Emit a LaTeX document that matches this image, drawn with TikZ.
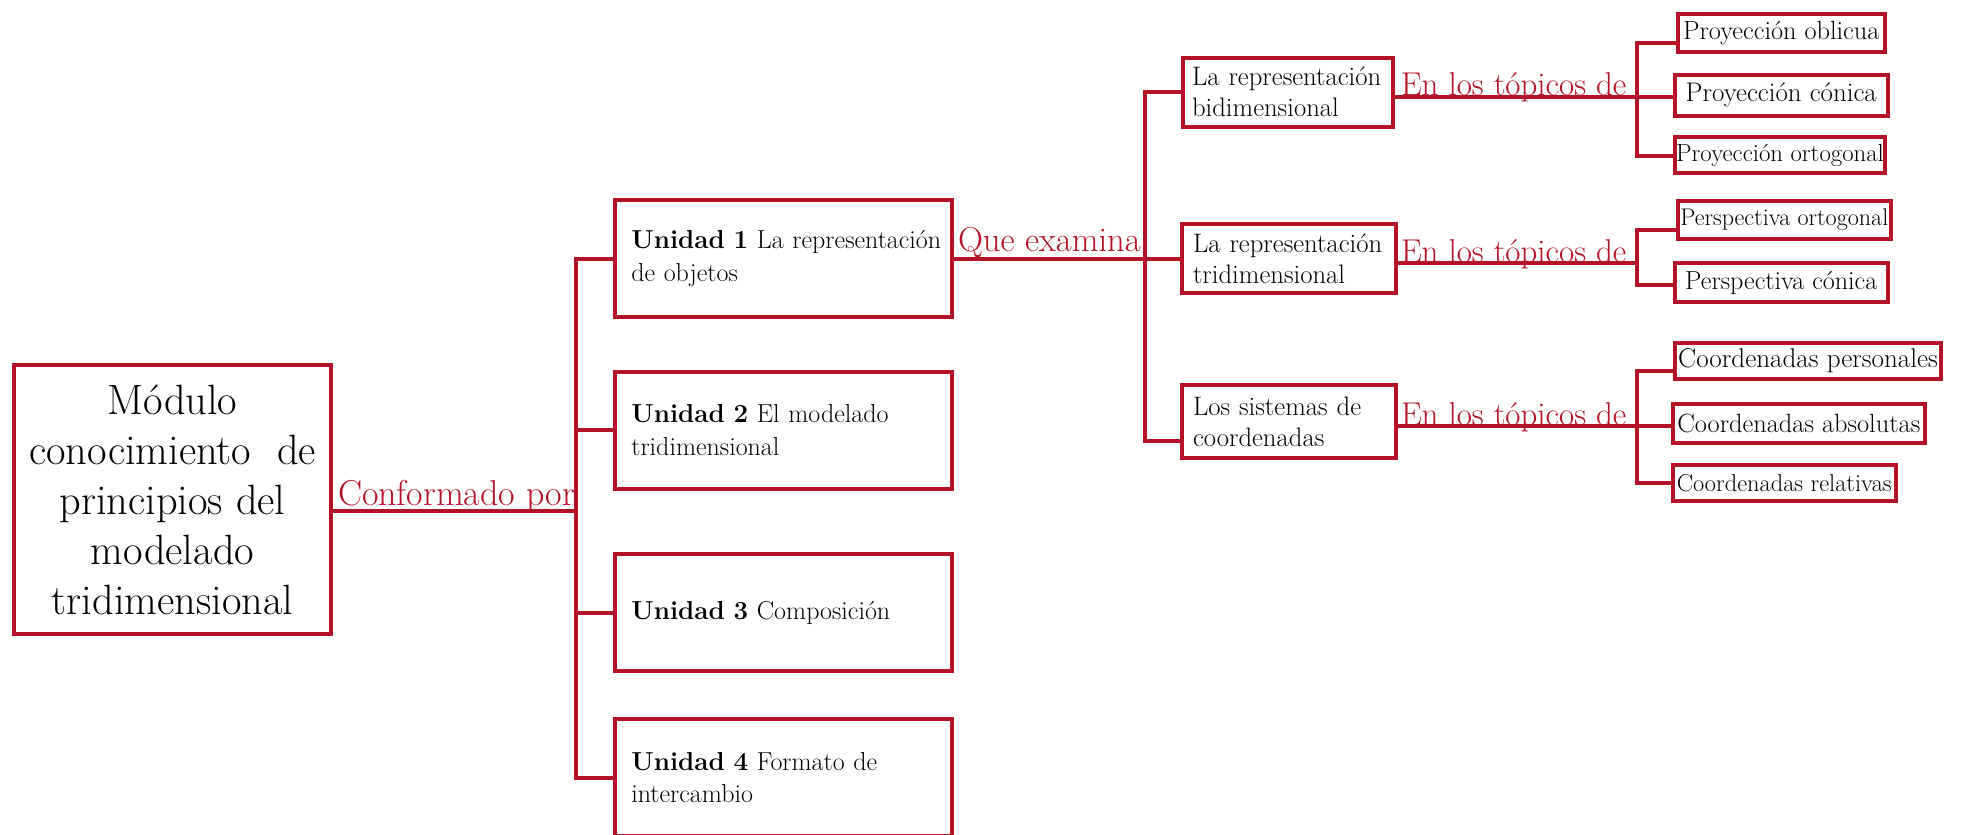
\documentclass[tikz,border=0pt]{standalone}
\usepackage{fontspec}
\definecolor{crimson}{RGB}{180,18,38}
\newcommand{\fs}[2]{\fontsize{#1}{#2}\selectfont}
\begin{document}
\begin{tikzpicture}[x=1pt,y=-1pt,
  every node/.style={inner sep=0pt,outer sep=0pt},
  link/.style={draw=crimson,line width=4pt},
  frame/.style={draw=crimson,line width=4pt},
  relabel/.style={text=crimson,anchor=base west},
  unitbox/.style={frame,minimum width=336.5pt,minimum height=117pt,
    text width=304pt,align=left,font=\fs{26}{32.5}},
  midbox/.style={frame,minimum height=69pt,
    text width=192pt,align=left,font=\fs{26.7}{31}},
  topicbox/.style={frame,align=center}]
\useasboundingbox (0,0) rectangle (1962,835);
\clip (0,0) rectangle (1962,835);

% root
\node[frame,minimum width=316.5pt,minimum height=269pt,align=center,
  font=\fs{42.4}{50}] (root) at (172.5,499.5)
  {Módulo\\conocimiento\ \ de\\principios del\\modelado\\tridimensional};

% units
\node[unitbox] (u1) at (783.3,258.5) {\mbox{\textbf{Unidad 1} La representación}\\\mbox{de objetos}};
\node[unitbox] (u2) at (783.3,430) {\mbox{\textbf{Unidad 2} El modelado}\\\mbox{tridimensional}};
\node[unitbox] (u3) at (783.3,612.5) {\mbox{\textbf{Unidad 3} Composición}};
\node[unitbox] (u4) at (783.3,777.5) {\mbox{\textbf{Unidad 4} Formato de}\\\mbox{intercambio}};

% second level
\node[midbox,minimum width=210pt] (m1) at (1288,92) {\mbox{La representación}\\\mbox{bidimensional}};
\node[midbox,minimum width=214pt] (m2) at (1289,258.5) {\mbox{La representación}\\\mbox{tridimensional}};
\node[midbox,minimum width=214pt,minimum height=73pt] (m3) at (1289,421.5) {\mbox{Los sistemas de}\\\mbox{coordenadas}};

% topics
\node[topicbox,minimum width=207.5pt,minimum height=38.3pt,font=\fs{26.3}{30}] (r1) at (1781.25,32.9) {Proyección oblicua};
\node[topicbox,minimum width=212.5pt,minimum height=40.7pt,font=\fs{26.9}{30}] (r2) at (1781.25,95.3) {Proyección cónica};
\node[topicbox,minimum width=210pt,minimum height=36pt,font=\fs{24.8}{28}] (r3) at (1780,155) {Proyección ortogonal};
\node[topicbox,minimum width=213.5pt,minimum height=37.7pt,font=\fs{24.1}{28}] (r4) at (1784.25,219.8) {Perspectiva ortogonal};
\node[topicbox,minimum width=212.5pt,minimum height=39.6pt,font=\fs{26.1}{30}] (r5) at (1781.25,282.5) {Perspectiva cónica};
\node[topicbox,minimum width=266pt,minimum height=36pt,font=\fs{27.1}{30}] (r6) at (1808,360.7) {Coordenadas personales};
\node[topicbox,minimum width=252.5pt,minimum height=39.3pt,font=\fs{26.4}{30}] (r7) at (1798.75,423.4) {Coordenadas absolutas};
\node[topicbox,minimum width=223.5pt,minimum height=35.4pt,font=\fs{24.4}{28}] (r8) at (1784.25,483) {Coordenadas relativas};

% junction points
\coordinate (j1) at (575.6,510.7);
\coordinate (j2) at (1145,441);
\coordinate (a1) at (1637,43.3);
\coordinate (a2) at (1637,96.7);
\coordinate (a3) at (1637,156);
\coordinate (b1) at (1637,230);
\coordinate (b2) at (1637,263.3);
\coordinate (b3) at (1637,285);
\coordinate (c1) at (1637,370.7);
\coordinate (c2) at (1637,426);
\coordinate (c3) at (1637,483.3);

% root to units
\draw[link] (root.east |- j1) -- (j1);
\draw[link] (u1.west) -- (j1 |- u1) -- (j1 |- u4) -- (u4.west);
\draw[link] (j1 |- u2) -- (u2.west);
\draw[link] (j1 |- u3) -- (u3.west);

% unit 1 to second level
\draw[link] (u1.east) -- (m2.west);
\draw[link] (m1.west) -- (j2 |- m1) -- (j2) -- (m3.west |- j2);

% second level to topics
\draw[link] (m1.east |- a2) -- (r2.west |- a2);
\draw[link] (r1.west |- a1) -- (a1) -- (a3) -- (r3.west |- a3);
\draw[link] (m2.east |- b2) -- (b2);
\draw[link] (r4.west |- b1) -- (b1) -- (b3) -- (r5.west |- b3);
\draw[link] (m3.east |- c2) -- (r7.west |- c2);
\draw[link] (r6.west |- c1) -- (c1) -- (c3) -- (r8.west |- c3);

% connector labels
\node[relabel,font=\fs{36}{40}] (l1) at (338,505) {Conformado por};
\node[relabel,font=\fs{34.6}{40}] (l2) at (958,251) {Que examina};
\node[relabel,font=\fs{33}{38}] (l3) at (1401,95) {En los tópicos de};
\node[relabel,font=\fs{33}{38}] (l4) at (1401,262) {En los tópicos de};
\node[relabel,font=\fs{33}{38}] (l5) at (1401,425) {En los tópicos de};
\end{tikzpicture}
\end{document}
